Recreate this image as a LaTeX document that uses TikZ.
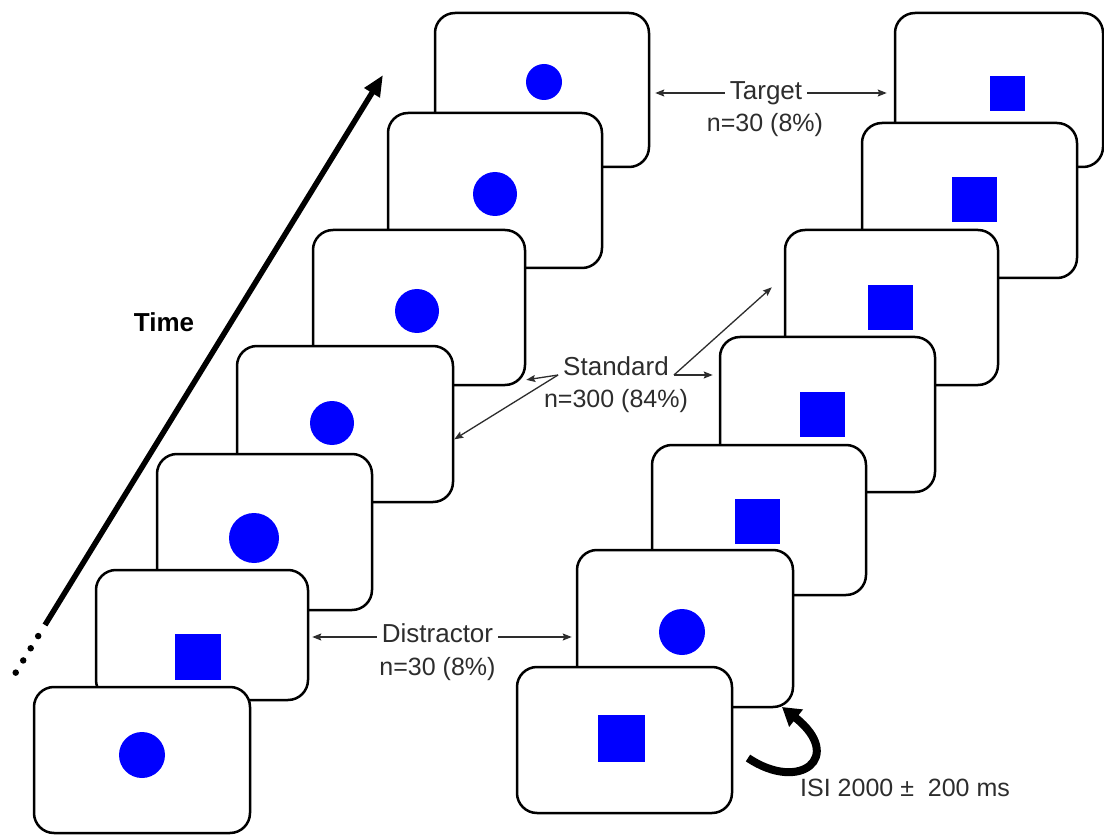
\documentclass[tikz,border=0pt]{standalone}
\usepackage{fontspec}
\setmainfont{Liberation Sans}
\usetikzlibrary{arrows.meta,calc}

\definecolor{stim}{RGB}{0,0,255}
\definecolor{ink}{RGB}{45,45,45}

\tikzset{
  card/.style={rectangle, draw=black, line width=2.5pt, fill=white, rounded corners=20pt, inner sep=0pt},
  disc/.style={circle, fill=stim, inner sep=0pt},
  block/.style={rectangle, fill=stim, inner sep=0pt},
  lbl/.style={text=ink, font=\fontsize{26}{30}\selectfont, inner xsep=5pt, inner ysep=0pt},
  num/.style={text=ink, font=\fontsize{25}{30}\selectfont, inner sep=0pt},
  pointer/.style={draw=ink, line width=1.3pt, -{Stealth[length=9pt,width=7pt,inset=1.5pt]}},
}

% a trial screen given by its left, top, right and bottom edges
\newcommand\trialcard[5]{\node[card, minimum width={(#4-#2)*1pt}, minimum height={(#5-#3)*1pt}] (#1) at ({(#2+#4)/2},{(#3+#5)/2}) {};}
% stimuli: name, centre x, centre y, radius / side
\newcommand\stimdisc[4]{\node[disc, minimum size={(2*#4)*1pt}] (#1) at (#2,#3) {};}
\newcommand\stimblock[4]{\node[block, minimum size={(#4)*1pt}] (#1) at (#2,#3) {};}

\begin{document}
\begin{tikzpicture}[x=1pt,y=-1pt]
\path[fill=white] (0,0) rectangle (1104,837);
\useasboundingbox (0,0) rectangle (1104,837);

% left sequence, drawn from the latest (back) to the earliest (front)
\trialcard{L7}{435}{13}{649}{167}   \stimdisc{L7s}{544}{82}{18}
\trialcard{L6}{388}{113}{602}{268}  \stimdisc{L6s}{495}{194}{22}
\trialcard{L5}{313}{230}{525}{385}  \stimdisc{L5s}{417}{311}{22}
\trialcard{L4}{237}{346}{453}{502}  \stimdisc{L4s}{332}{423}{22}
\trialcard{L3}{157}{454}{372}{610}  \stimdisc{L3s}{254}{538}{25}
\trialcard{L2}{96}{570}{308}{700}   \stimblock{L2s}{198}{657}{46}
\trialcard{L1}{34}{687}{250}{833}   \stimdisc{L1s}{142}{755}{23}

% right sequence
\trialcard{R7}{895}{13}{1103}{167}  \stimblock{R7s}{1007}{94}{35}
\trialcard{R6}{862}{123}{1077}{278} \stimblock{R6s}{974}{200}{45}
\trialcard{R5}{785}{230}{998}{385}  \stimblock{R5s}{890}{308}{45}
\trialcard{R4}{720}{337}{935}{492}  \stimblock{R4s}{822}{414}{45}
\trialcard{R3}{652}{445}{866}{595}  \stimblock{R3s}{757}{521}{45}
\trialcard{R2}{577}{550}{793}{707}  \stimdisc{R2s}{682}{632}{23}
\trialcard{R1}{517}{667}{732}{813}  \stimblock{R1s}{621}{738}{47}

% time axis
\coordinate (tA) at (45,625);
\coordinate (tB) at (383,75);
\draw[line width=5.5pt, -{Triangle[length=21pt,width=17pt]}] (tA) -- (tB);
\draw[line width=6.5pt, line cap=round, dash pattern=on 0pt off 14.3pt]
  ($(tA)!-13pt!(tB)$) -- ($(tA)!-56pt!(tB)$);
\node[font=\bfseries\fontsize{26}{30}\selectfont, anchor=base, inner sep=0pt] (time) at (164,332) {Time};

% target
\node[lbl, anchor=base] (target) at (766,100) {Target};
\node[num, anchor=base] (targetN) at (765,132) {n=30 (8\%)};
\coordinate (tgL) at ([yshift=7pt]target.base west);
\coordinate (tgR) at ([yshift=7pt]target.base east);
\draw[pointer, shorten >=5pt] (tgL) -- (tgL -| L7.east);
\draw[pointer, shorten >=7pt] (tgR) -- (tgR -| R7.west);

% standard
\node[lbl, anchor=base] (standard) at (616,375) {Standard};
\node[num, anchor=base] (standardN) at (616,407) {n=300 (84\%)};
\draw[pointer] (standard.base west) -- (L5.-34);
\draw[pointer] (standard.base west) -- (L4.-8);
\draw[pointer, shorten >=6pt] (standard.base east) -- (standard.base east -| R4.west);
\draw[pointer, shorten >=16pt] (standard.base east) -- (R5.164);

% distractor
\node[lbl, anchor=base] (distractor) at (437.5,642) {Distractor};
\node[num, anchor=base] (distractorN) at (437.5,675) {n=30 (8\%)};
\coordinate (dsL) at ([yshift=5pt]distractor.base west);
\coordinate (dsR) at ([yshift=5pt]distractor.base east);
\draw[pointer, shorten >=3pt] (dsL) -- (dsL -| L2.east);
\draw[pointer, shorten >=4pt] (dsR) -- (dsR -| R2.west);

% inter-stimulus interval
\coordinate (isiTail) at (748,758);
\coordinate (isiTip) at (782,707);
\draw[line width=8pt, -{Triangle[length=18pt,width=21pt]}]
  (isiTail) .. controls (800,793) and (845,757) .. (isiTip);
\node[num, font=\fontsize{25}{28}\selectfont, anchor=base west] (isi) at (800,796) {ISI 2000 ±\ \ 200 ms};
\end{tikzpicture}
\end{document}
